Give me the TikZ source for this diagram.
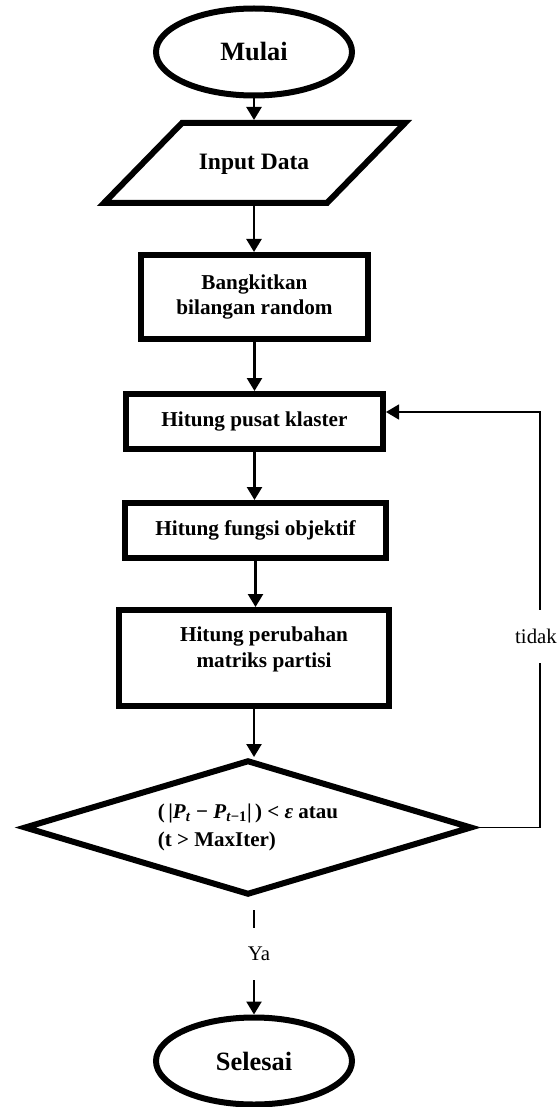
\documentclass[tikz,border=0pt]{standalone}
\usepackage{fontspec}
\setmainfont{Liberation Serif}
\usetikzlibrary{shapes.geometric,arrows.meta,calc}
\begin{document}
\begin{tikzpicture}[x=1pt,y=-1pt,
  term/.style={ellipse, draw, line width=6pt, inner sep=0pt, minimum width=196pt, minimum height=87pt, font=\fontsize{26.4}{30}\selectfont\bfseries},
  iotext/.style={inner sep=0pt, font=\fontsize{23.5}{27}\selectfont\bfseries},
  ioshape/.style={draw, line width=6pt, line join=miter},
  proc/.style={rectangle, draw, line width=6pt, inner sep=0pt, align=center, font=\fontsize{21.2}{25}\selectfont\bfseries},
  ptext/.style={align=center, inner sep=0pt, font=\fontsize{21.2}{26}\selectfont\bfseries},
  dec/.style={diamond, aspect=3.3, draw, line width=6pt, inner sep=0pt, minimum width=448pt, minimum height=135pt, align=left, font=\fontsize{21}{28}\selectfont\bfseries},
  arr/.style={line width=2.5pt, -{Triangle[width=15pt,length=13pt]}},
  fb/.style={line width=1.5pt, -{Triangle[width=15pt,length=13pt]}},
  lbl/.style={fill=white, inner xsep=1pt, inner ysep=19.5pt, font=\fontsize{20.8}{24}\selectfont}]
\useasboundingbox (0,0) rectangle (558,1107);

\node[term] (mulai) at (254,52) {Mulai};
\draw[ioshape] (182,123) -- (405,123) -- (327,203) -- (104,203) -- cycle;
\node[iotext] (input) at (254,164) {Input Data};
\coordinate (inTop) at (254,120);
\coordinate (inBot) at (254,206);
\node[proc, minimum width=227pt, minimum height=84pt] (bangkit) at (254.5,297) {Bangkitkan\\bilangan random};
\node[proc, minimum width=257pt, minimum height=55pt] (pusat) at (254.5,421.5) {Hitung pusat klaster};
\node[proc, minimum width=261pt, minimum height=55pt] (fungsi) at (255.5,530.5) {Hitung fungsi objektif};
\node[proc, minimum width=270pt, minimum height=96pt] (perub) at (254,658) {};
\node[ptext] (perubT) at (264,649) {Hitung perubahan\\matriks partisi};
\node[dec] (dia) at (248,827.5) {(\,|\textit{P}\textsubscript{\textit{t}} − \textit{P}\textsubscript{\textit{t}−1}|\,) < \textit{ε} atau\\(t > MaxIter)};
\node[term] (selesai) at (254,1061) {Selesai};

\coordinate (loopT) at (540,412);

\draw[arr] (mulai.south) -- (inTop);
\draw[arr] (inBot) -- (inBot |- bangkit.north);
\draw[arr] (bangkit.south) -- (bangkit.south |- pusat.north);
\draw[arr] (pusat.south) -- (pusat.south |- fungsi.north);
\draw[arr] (fungsi.south) -- (fungsi.south |- perub.north);
\draw[arr] (perub.south) -- (perub.south |- dia.north);
\draw[arr, shorten <=12pt] (selesai.north |- dia.south) -- node[lbl, pos=0.48, xshift=5pt] {Ya} (selesai.north);
\draw[fb] (dia.east) -| node[lbl, pos=0.73, xshift=-4pt] {tidak} (loopT) -- (pusat.east |- loopT);
\end{tikzpicture}
\end{document}
